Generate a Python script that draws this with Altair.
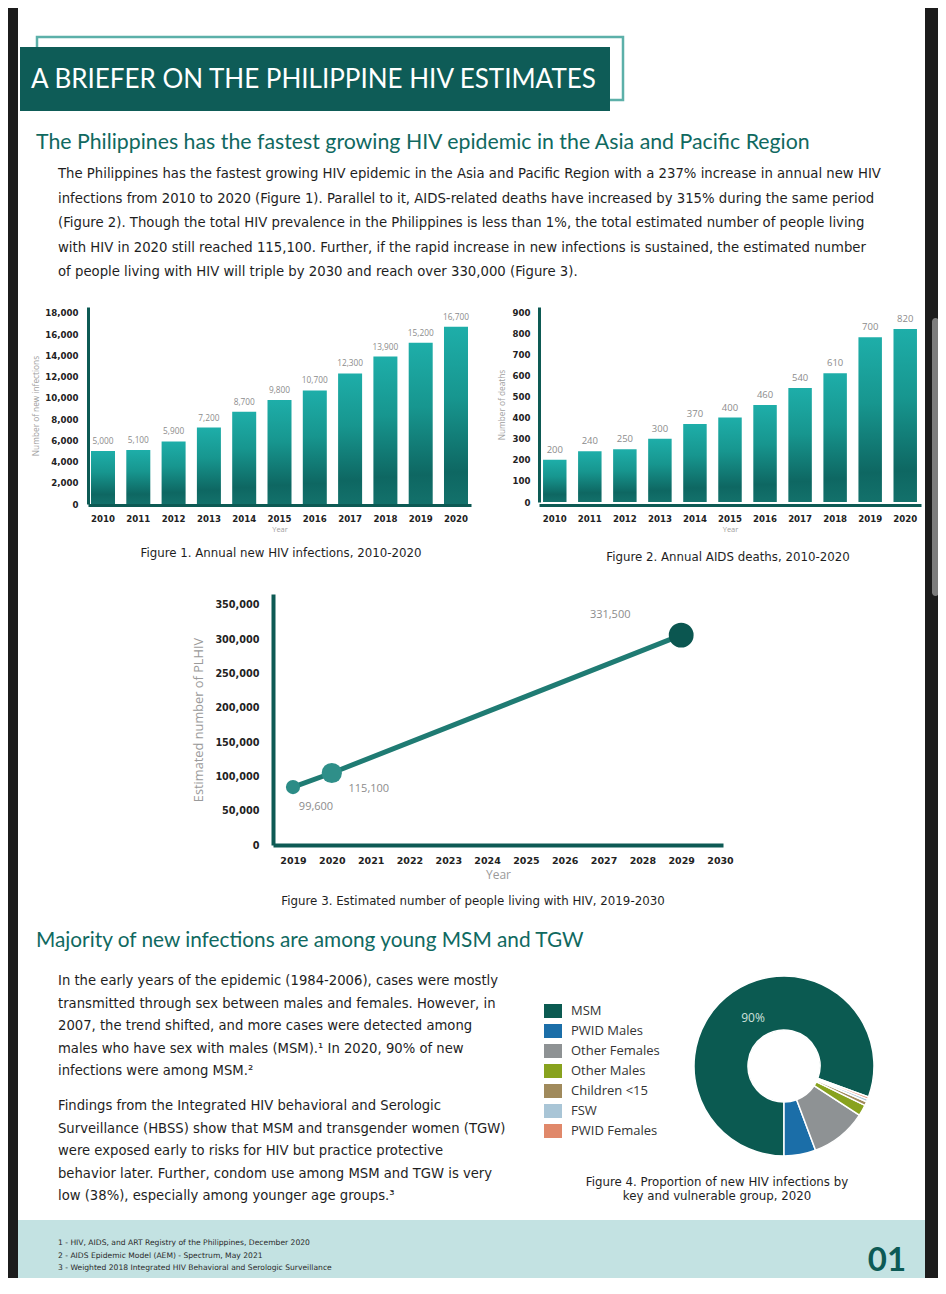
import math
import altair as alt
import pandas as pd

# ---------------- data ----------------
years = ["2010", "2011", "2012", "2013", "2014", "2015", "2016", "2017", "2018", "2019", "2020"]
new_infections = [5000, 5100, 5900, 7200, 8700, 9800, 10700, 12300, 13900, 15200, 16700]
new_infection_labels = ["5,000", "5,100", "5,900", "7,200", "8,700", "9,800", "10,700",
                        "12,300", "13,900", "15,200", "16,700"]
infection_ticks = [0, 2000, 4000, 6000, 8000, 10000, 12000, 14000, 16000, 18000]

aids_deaths = [200, 240, 250, 300, 370, 400, 460, 540, 610, 780, 820]
aids_death_labels = ["200", "240", "250", "300", "370", "400", "460", "540", "610", "700", "820"]
death_ticks = [0, 100, 200, 300, 400, 500, 600, 700, 800, 900]

plhiv_years = [2019, 2020, 2029]
plhiv_values = [84500, 105000, 306000]
plhiv_labels = ["99,600", "115,100", "331,500"]
plhiv_year_ticks = [2019, 2020, 2021, 2022, 2023, 2024, 2025, 2026, 2027, 2028, 2029, 2030]
plhiv_ticks = [0, 50000, 100000, 150000, 200000, 250000, 300000, 350000]

groups = ["MSM", "PWID Males", "Other Females", "Other Males", "Children <15", "FSW", "PWID Females"]
group_share = [80.6, 5.7, 10.1, 2.0, 0.7, 0.5, 0.4]
group_colors = ["#0b5a51", "#1b6ea8", "#8e9294", "#88a21e", "#a08a5c", "#a9c5d6", "#e0886a"]
ring_sequence = ["MSM", "PWID Females", "FSW", "Children <15", "Other Males", "Other Females", "PWID Males"]

banner_title = "A BRIEFER ON THE PHILIPPINE HIV ESTIMATES"
heading_1 = "The Philippines has the fastest growing HIV epidemic in the Asia and Pacific Region"
intro_lines = [
    "The Philippines has the fastest growing HIV epidemic in the Asia and Pacific Region with a 237% increase in annual new HIV",
    "infections from 2010 to 2020 (Figure 1). Parallel to it, AIDS-related deaths have increased by 315% during the same period",
    "(Figure 2). Though the total HIV prevalence in the Philippines is less than 1%, the total estimated number of people living",
    "with HIV in 2020 still reached 115,100. Further, if the rapid increase in new infections is sustained, the estimated number",
    "of people living with HIV will triple by 2030 and reach over 330,000 (Figure 3).",
]
heading_2 = "Majority of new infections are among young MSM and TGW"
para_a = [
    "In the early years of the epidemic (1984-2006), cases were mostly",
    "transmitted through sex between males and females. However, in",
    "2007, the trend shifted, and more cases were detected among",
    "males who have sex with males (MSM).\u00b9 In 2020, 90% of new",
    "infections were among MSM.\u00b2",
]
para_b = [
    "Findings from the Integrated HIV behavioral and Serologic",
    "Surveillance (HBSS) show that MSM and transgender women (TGW)",
    "were exposed early to risks for HIV but practice protective",
    "behavior later. Further, condom use among MSM and TGW is very",
    "low (38%), especially among younger age groups.\u00b3",
]
fig1_caption = "Figure 1. Annual new HIV infections, 2010-2020"
fig2_caption = "Figure 2. Annual AIDS deaths, 2010-2020"
fig3_caption = "Figure 3. Estimated number of people living with HIV, 2019-2030"
fig4_caption = ["Figure 4. Proportion of new HIV infections by", "key and vulnerable group, 2020"]
footnotes = [
    "1 - HIV, AIDS, and ART Registry of the Philippines, December 2020",
    "2 - AIDS Epidemic Model (AEM) - Spectrum, May 2021",
    "3 - Weighted 2018 Integrated HIV Behavioral and Serologic Surveillance",
]
page_number = "01"
msm_label = "90%"

# ---------------- canvas helpers ----------------
W, H = 930, 1270
def X(v):
    return v - 8
def Y(v):
    return v - 8

one = pd.DataFrame({"k": [0]})
BODY = "DejaVu Sans"
LEG = "Open Sans"
HEAD = "Lato"
TEAL_DARK = "#0d5a54"

def rect(x1, y1, x2, y2, **kw):
    return alt.Chart(one).mark_rect(**kw).encode(
        x=alt.value(X(x1)), x2=alt.value(X(x2)), y=alt.value(Y(y1)), y2=alt.value(Y(y2)))

def text(s, x, y, size, color="#1e1e1e", font=BODY, weight="normal", align="left",
         baseline="middle", line_height=None):
    kw = dict(text=s, fontSize=size, color=color, font=font, fontWeight=weight,
              align=align, baseline=baseline)
    if line_height is not None:
        kw["lineHeight"] = line_height
    return alt.Chart(one).mark_text(**kw).encode(x=alt.value(X(x)), y=alt.value(Y(y)))

layers = []

# frame / page
layers.append(rect(18, 0, 925, 1220, color="#ffffff"))
layers.append(rect(18, 1220, 925, 1285, color="#c3e2e2"))
layers.append(rect(932, 318, 939, 596, color="#7d7d7d", cornerRadius=4))

# banner
layers.append(rect(37, 37, 623, 100, fillOpacity=0, stroke="#5cb0a9", strokeWidth=2.5))
layers.append(rect(20, 47, 610, 111, color="#0e5c57"))
layers.append(text(banner_title, 31, 88, 26, color="#ffffff", font=HEAD, baseline="alphabetic"))

# heading + intro
layers.append(text(heading_1, 36, 143, 21.3, color="#10695f", font=HEAD))
layers.append(text(intro_lines, 58, 174, 13.25, line_height=24.6))

# ---------------- Figure 1 ----------------
grad = alt.LinearGradient(
    gradient="linear", x1=0, x2=0, y1=0, y2=1,
    stops=[alt.GradientStop(color="#1eaea9", offset=0),
           alt.GradientStop(color="#17968f", offset=0.4),
           alt.GradientStop(color="#0e6762", offset=0.82),
           alt.GradientStop(color="#13716b", offset=1)])

def bar_axes(ax_x, ax_y_bottom, ticks, fmt, ytitle, ylabpad, ytitlepad):
    yax = alt.Axis(orient="left", offset=-X(ax_x), values=ticks, format=fmt, grid=False, zindex=1,
                   ticks=False, tickSize=0, domainColor=TEAL_DARK, domainWidth=3,
                   labelFont=BODY, labelFontSize=8.6, labelFontWeight="bold", labelColor="#222222",
                   labelPadding=ylabpad, labelOverlap=False, labelFlush=False,
                   title=ytitle, titleFont=LEG, titleFontSize=8.3, titleFontWeight="normal",
                   titleColor="#a0a0a0", titlePadding=ytitlepad)
    xax = alt.Axis(orient="bottom", offset=Y(ax_y_bottom) - H, grid=False, ticks=False, tickSize=0,
                   domainColor=TEAL_DARK, domainWidth=3, labelAngle=0, zindex=1,
                   labelFont=BODY, labelFontSize=8.6, labelFontWeight="bold", labelColor="#222222",
                   labelPadding=9, title="Year", titleFont=LEG, titleFontSize=7.5,
                   titleFontWeight="normal", titleColor="#a0a0a0", titlePadding=3)
    return yax, xax

df1 = pd.DataFrame({"year": years, "value": new_infections, "label": new_infection_labels})
x1s = alt.Scale(type="band", domain=years, range=[X(88), X(471)], paddingInner=0.32, paddingOuter=0.085)
y1s = alt.Scale(domain=[0, 18565], range=[Y(504), Y(307)], nice=False, zero=True)
y1ax, x1ax = bar_axes(88, 505, infection_ticks, ",.0f", "Number of new infections", 10, 4)
layers.append(alt.Chart(df1).mark_bar(color=grad).encode(
    x=alt.X("year:O", scale=x1s, axis=x1ax),
    y=alt.Y("value:Q", scale=y1s, axis=y1ax)))
layers.append(alt.Chart(df1).mark_text(dy=-5, baseline="bottom", fontSize=8.3, font=LEG,
                                        color="#8c8c8c").encode(
    x=alt.X("year:O", scale=x1s, axis=None),
    y=alt.Y("value:Q", scale=y1s, axis=None),
    text="label:N"))
layers.append(text(fig1_caption, 281, 553, 11.8, align="center"))

# ---------------- Figure 2 ----------------
df2 = pd.DataFrame({"year": years, "value": aids_deaths, "label": aids_death_labels})
x2s = alt.Scale(type="band", domain=years, range=[X(539), X(921)], paddingInner=0.33, paddingOuter=0.115)
y2s = alt.Scale(domain=[0, 923.7], range=[Y(502), Y(307)], nice=False, zero=True)
y2ax, x2ax = bar_axes(539, 505, death_ticks, ".0f", "Number of deaths", 9, 6)
layers.append(alt.Chart(df2).mark_bar(color=grad).encode(
    x=alt.X("year:O", scale=x2s, axis=x2ax),
    y=alt.Y("value:Q", scale=y2s, axis=y2ax)))
layers.append(alt.Chart(df2).mark_text(dy=-5, baseline="bottom", fontSize=9.5, font=LEG,
                                        color="#8c8c8c").encode(
    x=alt.X("year:O", scale=x2s, axis=None),
    y=alt.Y("value:Q", scale=y2s, axis=None),
    text="label:N"))
layers.append(text(fig2_caption, 728, 557, 11.8, align="center"))

# ---------------- Figure 3 ----------------
df3 = pd.DataFrame({"year": plhiv_years, "value": plhiv_values, "label": plhiv_labels})
x3s = alt.Scale(domain=[2018.485, 2030.077], range=[X(273), X(723)], nice=False, zero=False)
y3s = alt.Scale(domain=[0, 366000], range=[Y(845), Y(594)], nice=False, zero=True)
x3ax = alt.Axis(orient="bottom", offset=Y(845) - H, values=plhiv_year_ticks, format="d", grid=False,
                ticks=False, tickSize=0, domainColor=TEAL_DARK, domainWidth=4, labelAngle=0, zindex=1,
                labelFont=BODY, labelFontSize=9.5, labelFontWeight="bold", labelColor="#222222",
                labelPadding=10, labelFlush=False, labelOverlap=False,
                title="Year", titleFont=LEG, titleFontSize=12, titleFontWeight="normal",
                titleColor="#9a9a9a", titlePadding=5)
y3ax = alt.Axis(orient="left", offset=-X(273), values=plhiv_ticks, format=",.0f", grid=False, zindex=1,
                ticks=False, tickSize=0, domainColor=TEAL_DARK, domainWidth=4,
                labelFont=BODY, labelFontSize=9.7, labelFontWeight="bold", labelColor="#222222",
                labelPadding=14, labelFlush=False, labelOverlap=False,
                title="Estimated number of PLHIV", titleFont=LEG, titleFontSize=12.8,
                titleFontWeight="normal", titleColor="#9a9a9a", titlePadding=9)
layers.append(alt.Chart(df3).mark_line(color="#1f7b73", strokeWidth=5).encode(
    x=alt.X("year:Q", scale=x3s, axis=x3ax),
    y=alt.Y("value:Q", scale=y3s, axis=y3ax)))
layers.append(alt.Chart(df3).mark_circle(opacity=1).encode(
    x=alt.X("year:Q", scale=x3s, axis=None),
    y=alt.Y("value:Q", scale=y3s, axis=None),
    size=alt.Size("year:O", scale=alt.Scale(domain=plhiv_years, range=[201, 616, 1963]), legend=None),
    color=alt.Color("year:O", scale=alt.Scale(domain=plhiv_years, range=["#2c8c86", "#2f8f89", "#0b5650"]),
                    legend=None)))
for yr, dx, dy in [(2019, 23, 20), (2020, 37, 16), (2029, -71, -20)]:
    layers.append(alt.Chart(df3).transform_filter(alt.datum.year == yr).mark_text(
        dx=dx, dy=dy, fontSize=11, font=LEG, color="#8c8c8c").encode(
        x=alt.X("year:Q", scale=x3s, axis=None),
        y=alt.Y("value:Q", scale=y3s, axis=None),
        text="label:N"))
layers.append(text(fig3_caption, 473, 901, 11.8, align="center"))

# ---------------- Section 2 ----------------
layers.append(text(heading_2, 36, 941, 20.8, color="#10695f", font=HEAD))
layers.append(text(para_a, 58, 981, 13.2, line_height=22.6))
layers.append(text(para_b, 58, 1106, 13.2, line_height=22.6))

df4 = pd.DataFrame({"group": groups, "share": group_share,
                    "ring": [ring_sequence.index(g) for g in groups]})
layers.append(alt.Chart(df4).mark_arc(innerRadius=36, outerRadius=90, stroke="#ffffff",
                                      strokeWidth=1.5).encode(
    theta=alt.Theta("share:Q", stack=True, scale=alt.Scale(range=[math.pi, 3 * math.pi])),
    order=alt.Order("ring:Q", sort="ascending"),
    color=alt.Color("group:N", scale=alt.Scale(domain=groups, range=group_colors),
                    legend=alt.Legend(orient="none", legendX=X(544), legendY=Y(1002), title=None,
                                      symbolType="M-1,-0.78L1,-0.78L1,0.78L-1,0.78Z",
                                      symbolSize=324, symbolStrokeWidth=0, labelFont=LEG,
                                      labelFontSize=13, labelColor="#333333", rowPadding=3,
                                      labelOffset=9, padding=0)),
    x=alt.value(X(784)), y=alt.value(Y(1066))))
layers.append(text(msm_label, 753, 1018, 12, color="#cfe1dd", font=LEG, align="center"))
layers.append(text(fig4_caption, 717, 1182, 11.8, align="center", line_height=14))

# ---------------- footer ----------------
layers.append(text(footnotes, 58, 1243, 7.6, color="#2a2a2a", line_height=12.5))
layers.append(text(page_number, 887, 1271, 33, color="#0c5a55", font=HEAD, weight="bold",
                   align="center", baseline="alphabetic"))

chart = alt.layer(*layers).resolve_scale(
    x="independent", y="independent", color="independent", size="independent"
).resolve_axis(x="independent", y="independent").properties(
    width=W, height=H, autosize=alt.AutoSizeParams(type="none"), padding=0
).configure(background="#1c1c1c").configure_view(stroke=None)

chart.save("out.html", embed_options={"renderer": "svg", "actions": False})
